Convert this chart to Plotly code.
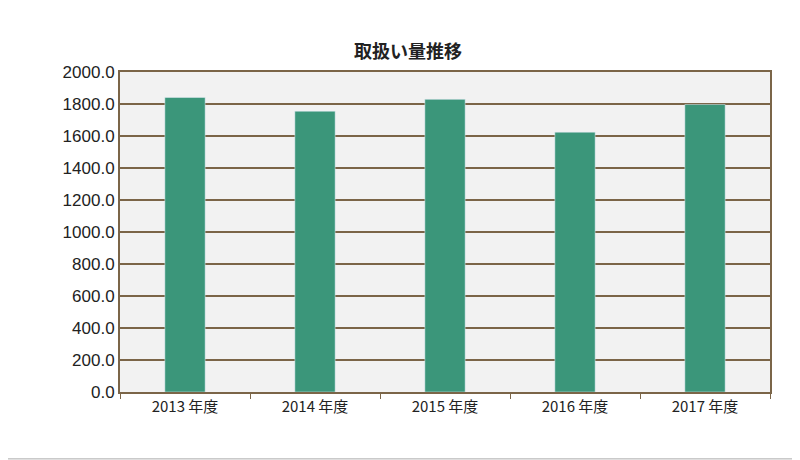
import plotly.graph_objects as go

categories = ["2013 年度", "2014 年度", "2015 年度", "2016 年度", "2017 年度"]
values = [1841, 1755, 1829, 1624, 1797]
title = "<b>取扱い量推移</b>"

brown = "#7b6548"
fig = go.Figure(go.Bar(x=categories, y=values, marker_color="#3b967a", width=0.31))
fig.update_layout(
    width=800, height=460,
    paper_bgcolor="white", plot_bgcolor="#f2f2f2",
    margin=dict(l=112, r=38, t=64, b=76, autoexpand=False),
    title=dict(text=title, x=0.5, xanchor="center", y=0.905, yanchor="middle",
               font=dict(family="Noto Sans CJK JP", size=18, color="#222")),
    font=dict(family="Noto Sans CJK JP", color="#333"),
    showlegend=False,
    shapes=[dict(type="rect", xref="paper", yref="paper", x0=-0.183, x1=1.045, y0=-0.209, y1=1.222,
                 line=dict(color="#aaaaaa", width=1))],
)
fig.update_yaxes(range=[0, 2000], dtick=200, tickformat=".1f", showgrid=True, gridcolor=brown, gridwidth=2,
                 showline=True, linecolor=brown, linewidth=2, mirror=True, zeroline=False,
                 tickfont=dict(family="Liberation Sans", size=17, color="#222"), ticks="", ticklen=0)
fig.update_xaxes(showline=True, linecolor=brown, linewidth=2, mirror=True, ticks="outside",
                 tickson="boundaries", tickcolor=brown, ticklen=5, tickwidth=1,
                 tickfont=dict(family="Noto Sans CJK JP", size=15, color="#222"))
fig.write_html("out.html")
